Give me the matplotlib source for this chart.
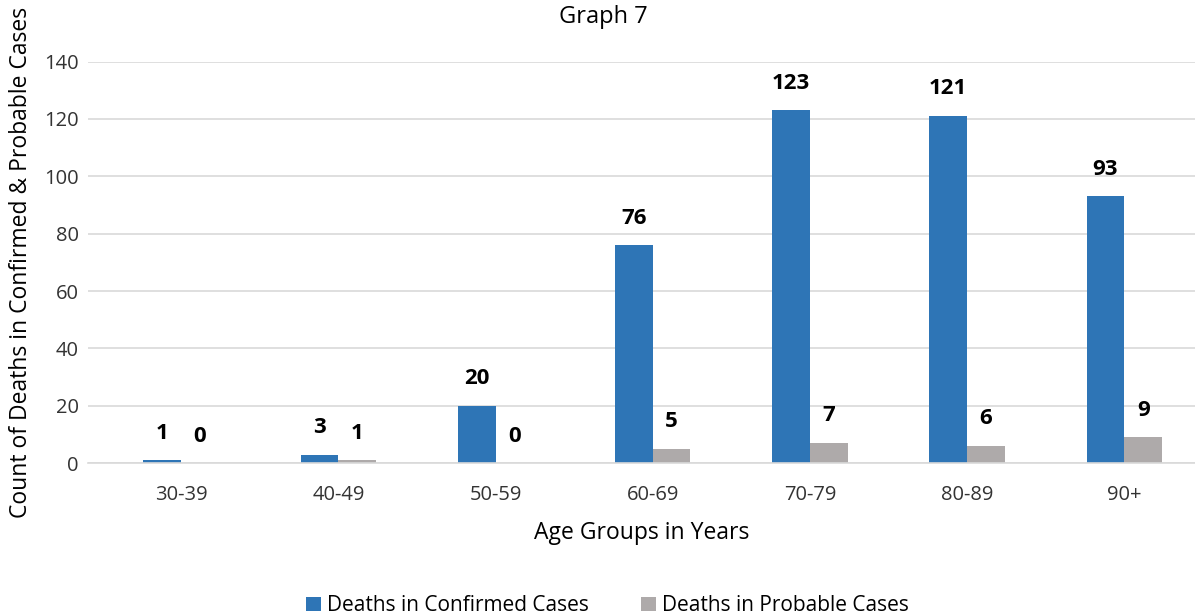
import numpy as np
import matplotlib.pyplot as plt

plt.rcParams['font.family'] = ['Open Sans', 'DejaVu Sans']

age_groups = ["30-39", "40-49", "50-59", "60-69", "70-79", "80-89", "90+"]
confirmed = [1, 3, 20, 76, 123, 121, 93]
probable = [0, 1, 0, 5, 7, 6, 9]

blue = "#2E75B6"
grey = "#AEAAAA"

fig = plt.figure(figsize=(11.95, 6.16), dpi=100)
ax = fig.add_axes([0.074, 0.248, 0.926, 0.652])

x = np.arange(len(age_groups))
w = 0.24
b1 = ax.bar(x - w / 2, confirmed, w, color=blue, label="Deaths in Confirmed Cases")
b2 = ax.bar(x + w / 2, probable, w, color=grey, label="Deaths in Probable Cases")

for bars, vals in ((b1, confirmed), (b2, probable)):
    for r, v in zip(bars, vals):
        ax.annotate(str(v), (r.get_x() + r.get_width() / 2, v), xytext=(0, 12),
                    textcoords="offset points", ha="center", va="bottom",
                    fontsize=16, fontweight="bold")

ax.set_xlim(-0.59, 6.45)
ax.set_ylim(0, 140)
ax.set_yticks(range(0, 141, 20))
ax.set_xticks(x)
ax.set_xticklabels(age_groups)
ax.tick_params(axis="both", length=0, labelsize=14.5, pad=7, colors="#333333")
ax.tick_params(axis="x", pad=16)
ax.yaxis.grid(True, color="#D9D9D9", linewidth=1.2)
ax.set_axisbelow(True)
for s in ("top", "right", "left"):
    ax.spines[s].set_visible(False)
ax.spines["bottom"].set_color("#D9D9D9")
ax.spines["bottom"].set_linewidth(1.2)

ax.set_xlabel("Age Groups in Years", fontsize=16.5, labelpad=11)
ax.set_ylabel("Count of Deaths in Confirmed & Probable Cases", fontsize=16.5, labelpad=8)
fig.text(0.505, 0.973, "Graph 7", ha="center", va="center", fontsize=17)

ax.legend(loc="center", bbox_to_anchor=(0.469, -0.355), ncol=2, frameon=False,
          fontsize=15, handlelength=0.7, handleheight=0.7, columnspacing=2.5, handletextpad=0.3)

fig.savefig("out.png", dpi=100)
